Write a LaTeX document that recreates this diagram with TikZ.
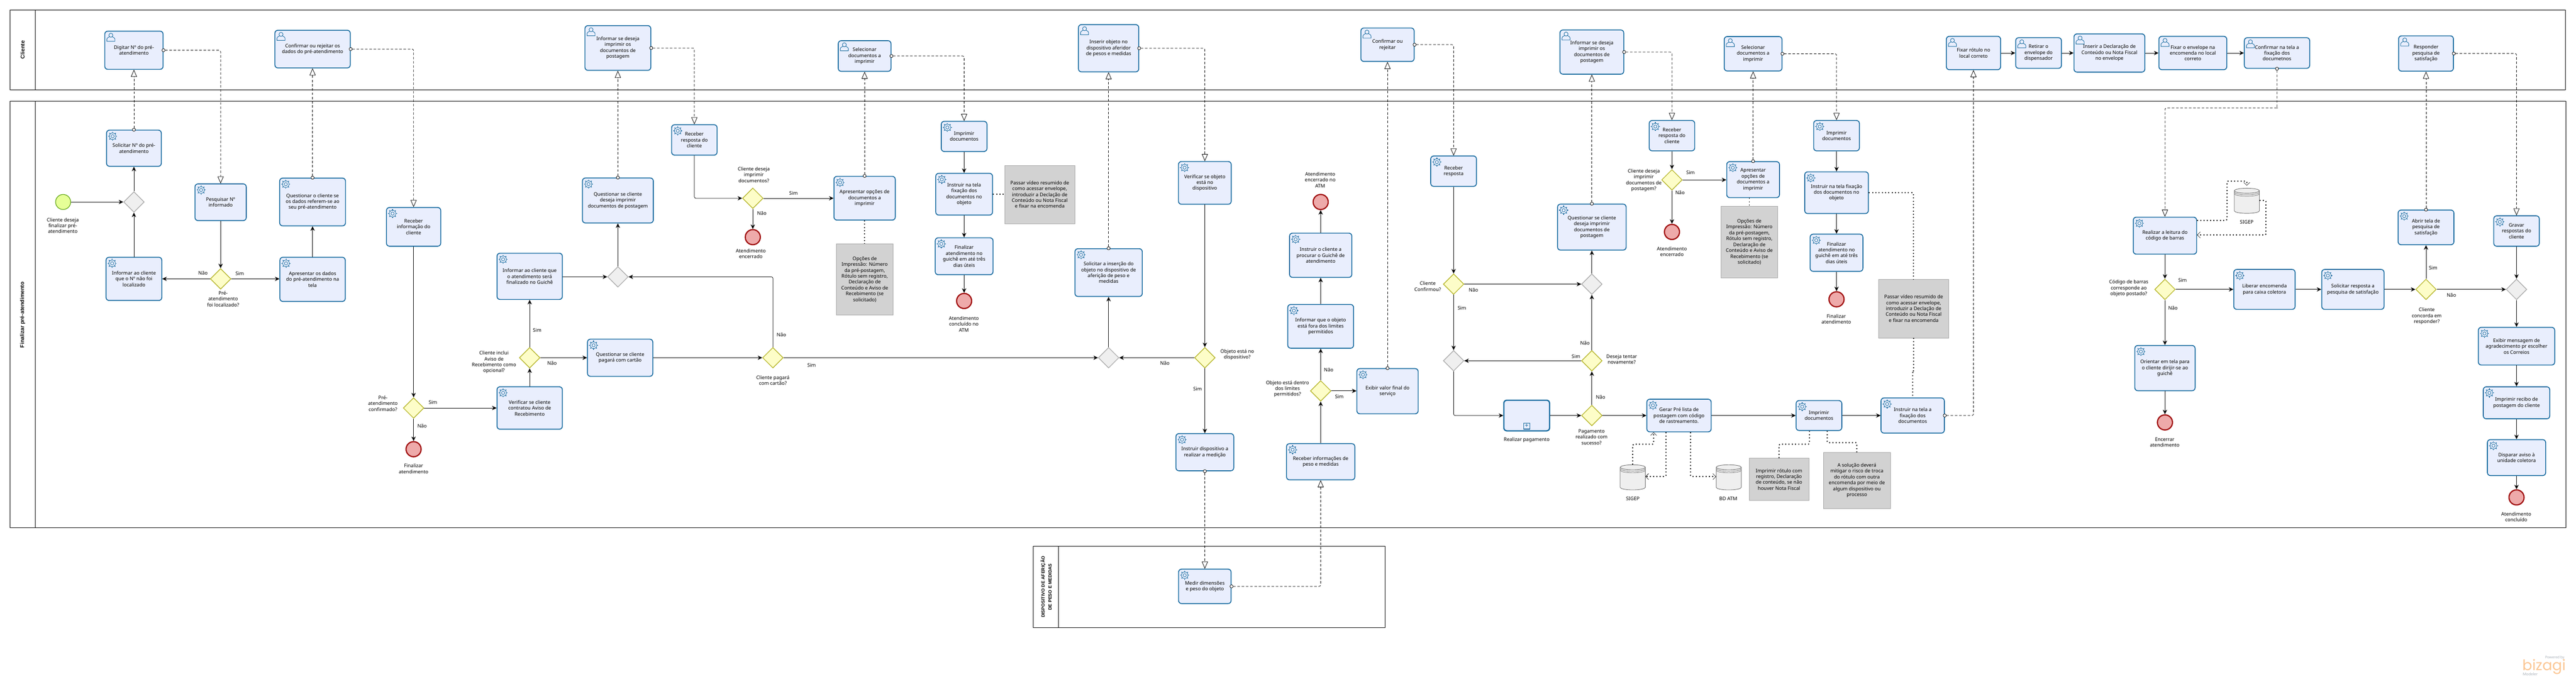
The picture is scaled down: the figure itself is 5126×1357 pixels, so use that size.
\documentclass[tikz,border=0pt]{standalone}
\usepackage{fontspec}
\setmainfont{Noto Sans}
\newfontfamily\lanefont{Liberation Sans}
\newfontfamily\logofont{Poppins}
\usetikzlibrary{shapes.geometric,arrows.meta,calc}
\definecolor{taskline}{HTML}{14699E}
\definecolor{taskfill}{HTML}{E9EEFD}
\definecolor{gwyline}{HTML}{B5B52A}
\definecolor{gwyfill}{HTML}{FDFDC8}
\definecolor{gwgline}{HTML}{ABABAB}
\definecolor{gwgfill}{HTML}{EFEFEF}
\definecolor{notefill}{HTML}{D2D2D2}
\definecolor{logoorange}{HTML}{FBC795}
\definecolor{logogray}{HTML}{A8B0B8}
\definecolor{startline}{HTML}{62A716}
\definecolor{startfill}{HTML}{E6FF97}
\definecolor{endline}{HTML}{A00F0F}
\definecolor{endfill}{HTML}{EEAAAA}
\tikzset{
  txt/.style={font=\fontsize{9.7}{11.7}\selectfont,align=center,inner sep=0pt},
  lbl/.style={txt},
  taskbox/.style={txt,draw=taskline,fill=taskfill,line width=1.7pt,rounded corners=6pt},
  subbox/.style={taskbox,line width=2.4pt},
  gwy/.style={diamond,aspect=1,minimum size=41pt,inner sep=0pt,draw=gwyline,fill=gwyfill,line width=1.4pt},
  gwg/.style={diamond,aspect=1,minimum size=41pt,inner sep=0pt,draw=gwgline,fill=gwgfill,line width=1.4pt},
  startev/.style={circle,minimum size=30pt,inner sep=0pt,draw=startline,fill=startfill,line width=1.3pt},
  endev/.style={circle,minimum size=30pt,inner sep=0pt,draw=endline,fill=endfill,line width=2.4pt},
  notebox/.style={txt,fill=notefill,draw=gray!70,line width=.4pt},
  poolbox/.style={draw=black,line width=1pt,inner sep=0pt},
  lanetxt/.style={rotate=90,inner sep=0pt,align=center},
  seq/.style={draw=black,line width=.8pt,rounded corners=3pt,arrows={-Stealth[length=9pt,width=8.5pt]}},
  msg/.style={draw=black,line width=.8pt,dash pattern=on 5pt off 3.5pt,rounded corners=3pt,shorten <=-3.5pt,
    arrows={Circle[open,length=7pt,width=7pt,fill=white]-Triangle[open,length=14pt,width=12pt,fill=white]}},
  assoc/.style={draw=black,line width=2pt,dash pattern=on 2pt off 4.5pt,rounded corners=2pt},
  assocarrow/.style={assoc,arrows={-Straight Barb[length=6pt,width=12pt,line width=.6pt]}},
  dbhold/.style={minimum width=50pt,minimum height=50pt,inner sep=0pt},
  dbline/.style={draw=gray!85!black,fill=gwgfill,line width=.9pt},
  gearicon/.pic={
    \foreach \a in {0,45,...,315}{\draw[taskline,line width=1.3pt] (\a:5.5pt) -- (\a:9pt);}
    \draw[taskline,fill=taskfill,line width=.8pt] (0,0) circle[radius=6.6pt];
    \draw[taskline,line width=.8pt] (0,0) circle[radius=3.2pt];
  },
  usericon/.pic={
    \draw[taskline,line width=.9pt,fill=taskfill] (-8,8) -- (-8,4) .. controls (-8,1) and (-4,0) .. (-3,-1) -- (3,-1) .. controls (4,0) and (8,1) .. (8,4) -- (8,8) -- cycle;
    \draw[taskline,line width=.9pt,fill=taskfill] (0,-4) circle[radius=4pt];
  },
}
\newcommand{\tsksvc}[6]{\node[taskbox,minimum width=#4pt,minimum height=#5pt] (#1) at (#2,#3) {#6};
  \pic at ($(#1.north west)+(13,13)$) {gearicon};}
\newcommand{\tskusr}[6]{\node[taskbox,minimum width=#4pt,minimum height=#5pt] (#1) at (#2,#3) {#6};
  \pic at ($(#1.north west)+(13,13)$) {usericon};}
\newcommand{\gwy}[3]{\node[gwy] (#1) at (#2,#3) {};}
\newcommand{\gwg}[3]{\node[gwg] (#1) at (#2,#3) {};}
\newcommand{\lab}[4]{\node[lbl] (#1) at (#2,#3) {#4};}
\newcommand{\evend}[3]{\node[endev] (#1) at (#2,#3) {};}
\newcommand{\dbnode}[3]{\node[dbhold] (#1) at (#2,#3) {};
  \begin{scope}[shift={(#2,#3)}]
    \draw[dbline] (-25,-20) -- (-25,20) arc[start angle=180,end angle=360,x radius=25pt,y radius=5pt] -- (25,-20);
    \draw[dbline] (-25,-20) arc[start angle=180,end angle=540,x radius=25pt,y radius=5pt];
    \draw[draw=gray!85!black,line width=.7pt] (-25,-17) arc[start angle=180,end angle=360,x radius=25pt,y radius=5pt];
    \draw[draw=gray!85!black,line width=.7pt] (-25,-14) arc[start angle=180,end angle=360,x radius=25pt,y radius=5pt];
  \end{scope}}
\begin{document}
\begin{tikzpicture}[x=1pt,y=-1pt]
\useasboundingbox (0,0) rectangle (5126,1357);
% pools
\node[poolbox,minimum width=5085pt,minimum height=158.5pt] (pc) at (2562.5,99.25) {};
\draw[line width=1pt] ([xshift=50.5pt]pc.north west) -- ([xshift=50.5pt]pc.south west);
\node[lanetxt,font=\lanefont\bfseries\fontsize{10.8}{13}\selectfont] (pct) at (45,99) {Cliente};
\node[poolbox,minimum width=5086pt,minimum height=848.5pt] (pf) at (2563,625.75) {};
\draw[line width=1pt] ([xshift=50.5pt]pf.north west) -- ([xshift=50.5pt]pf.south west);
\node[lanetxt,font=\lanefont\bfseries\fontsize{10.8}{13}\selectfont] (pft) at (45,626.6) {Finalizar pré-atendimento};
\node[poolbox,minimum width=699.5pt,minimum height=161.6pt] (pd) at (2406.25,1168.2) {};
\draw[line width=1pt] ([xshift=50pt]pd.north west) -- ([xshift=50pt]pd.south west);
\node[lanetxt,font=\lanefont\bfseries\fontsize{9}{13.7}\selectfont] (pdt) at (2081.7,1168) {DISPOSITIVO DE AFERIÇÃO\\DE PESO E MEDIDAS};
% section 1
\node[startev] (st) at (125.6,402) {};
\lab{lst}{125}{449}{Cliente deseja\\finalizar pré-\\atendimento}
\gwg{gwa}{266.5}{402}
\tskusr{t1}{266.5}{100}{116}{76}{Digitar Nº do pré-\\atendimento}
\tsksvc{t2}{266.5}{295}{109}{72}{Solicitar Nº do pré-\\atendimento}
\tsksvc{t3}{266.5}{555}{111}{86}{Informar ao cliente\\que o Nº não foi\\localizado}
\tsksvc{t4}{439}{402.5}{102}{73}{Pesquisar Nº\\informado}
\gwy{gwb}{439}{555}
\lab{lgwb}{444}{595}{Pré-\\atendimento\\foi localizado?}
\lab{lbn}{404}{543}{Não}
\lab{lbs}{477}{544}{Sim}
\tsksvc{t5}{622}{556}{130}{88}{Apresentar os dados\\do pré-atendimento na\\tela}
\tsksvc{t6}{622}{402}{131}{95}{Questionar o cliente se\\os dados referem-se ao\\seu pré-atendimento}
\tskusr{t7}{622}{97.7}{150}{75}{Confirmar ou rejeitar os\\dados do pré-atendimento}
\tsksvc{t8}{823}{451.5}{108}{77}{Receber\\informação do\\cliente}
\gwy{gwc}{823}{812}
\lab{lgwc}{762}{803}{Pré-\\atendimento\\confirmado?}
\lab{lcn}{840}{848}{Não}
\lab{lcs}{861.5}{801}{Sim}
\evend{e1}{823}{894}
\lab{le1}{823}{933}{Finalizar\\atendimento}
% section 2
\tskusr{t9}{1229.5}{95.5}{131}{89}{Informar se deseja\\imprimir os\\documentos de\\postagem}
\tsksvc{t10}{1229.5}{399}{141}{89.5}{Questionar se cliente\\deseja imprimir\\documentos de postagem}
\tsksvc{t11}{1381.7}{278.5}{90.5}{60.5}{Receber\\resposta do\\cliente}
\gwy{gwd}{1498}{394.6}
\lab{lgwd}{1500}{348}{Cliente deseja\\imprimir\\documentos?}
\lab{lds}{1579}{385}{Sim}
\lab{ldn}{1516}{425}{Não}
\evend{e2}{1498}{472}
\lab{le2}{1494}{505}{Atendimento\\encerrado}
\tsksvc{t12}{1054}{550}{130}{92}{Informar ao cliente que\\o atendimento será\\finalizado no Guichê}
\gwg{gwe}{1229.5}{551}
\tsksvc{t13}{1054}{812}{130}{84.5}{Verificar se cliente\\contratou Aviso de\\Recebimento}
\gwy{gwf}{1054}{712}
\lab{lgwf}{983}{721}{Cliente inclui\\Aviso de\\Recebimento como\\opcional?}
\lab{lfs}{1069}{657}{Sim}
\lab{lfn}{1098.5}{723}{Não}
\tsksvc{t14}{1234}{712}{130}{74}{Questionar se cliente\\pagará com cartão}
\gwy{gwg}{1538}{712}
\lab{lgwg}{1538}{757}{Cliente pagará\\com cartão?}
\lab{lgn}{1555}{666}{Não}
\lab{lgs}{1615}{727}{Sim}
% section 3
\tskusr{t15}{1720.5}{111.5}{105}{61}{Selecionar\\documentos a\\imprimir}
\tsksvc{t16}{1720.5}{394.5}{122}{87}{Apresentar opções de\\documentos a\\imprimir}
\node[notebox,minimum width=112.5pt,minimum height=142pt] (n1) at (1720.7,556) {Opções de\\Impressão: Número\\da pré-postagem,\\Rótulo sem registro,\\Declaração de\\Conteúdo e Aviso de\\Recebimento (se\\solicitado)};
\tsksvc{t17}{1918.5}{271.5}{91}{60}{Imprimir\\documentos}
\tsksvc{t18}{1918.5}{386.5}{113}{83}{Instruir na tela\\fixação dos\\documentos no\\objeto}
\tsksvc{t19}{1918.5}{510}{115}{73.5}{Finalizar\\atendimento no\\guichê em até três\\dias úteis}
\evend{e3}{1918.5}{599}
\lab{le3}{1918}{645}{Atendimento\\concluído no\\ATM}
\node[notebox,minimum width=139pt,minimum height=115.6pt] (n2) at (2069,387) {Passar vídeo resumido de\\como acessar envelope,\\introduzir a Declação de\\Conteúdo ou Nota Fiscal\\e fixar na encomenda};
\tskusr{t20}{2206}{96}{120}{94}{Inserir objeto no\\dispositivo aferidor\\de pesos e medidas}
\tsksvc{t21}{2206}{542.5}{134}{95}{Solicitar a inserção do\\objeto no dispositivo de\\aferição de peso e\\medidas}
\gwg{gwh}{2206}{712}
\tsksvc{t22}{2397.5}{364}{105}{85}{Verificar se objeto\\está no\\dispositivo}
\gwy{gwi}{2397.5}{712}
\lab{lgwi}{2462}{706}{Objeto está no\\dispositivo?}
\lab{lin}{2318}{723}{Não}
\lab{lis}{2383}{774}{Sim}
\tsksvc{t23}{2397.5}{900}{115}{74}{Instruir dispositivo a\\realizar a medição}
\tsksvc{t24}{2397.5}{1167}{104.5}{68.5}{Medir dimensões\\e peso do objeto}
% section 4
\evend{e4}{2628}{402}
\lab{le4}{2627}{358}{Atendimento\\encerrado no\\ATM}
\tsksvc{t25}{2628}{508}{124}{88}{Instruir o cliente a\\procurar o Guichê de\\atendimento}
\tsksvc{t26}{2628}{649.5}{131}{87}{Informar que o objeto\\está fora dos limites\\permitidos}
\gwy{gwj}{2628}{778}
\lab{lgwj}{2562}{774}{Objeto está dentro\\dos limites\\permitidos?}
\lab{ljn}{2644}{736}{Não}
\lab{ljs}{2665}{789}{Sim}
\tsksvc{t27}{2628}{919}{136}{72}{Receber informações de\\peso e medidas}
\tsksvc{t28}{2761}{778.6}{122}{90}{Exibir valor final do\\serviço}
\tskusr{t29}{2761}{89}{106}{66.6}{Confirmar ou\\rejeitar}
\tsksvc{t30}{2892.5}{340.7}{91}{60.5}{Receber\\resposta}
\gwy{gwk}{2892.5}{565.5}
\lab{lgwk}{2841}{570}{Cliente\\Confirmou?}
\lab{lkn}{2932}{577}{Não}
\lab{lks}{2909}{613}{Sim}
\gwg{gwl}{2892.5}{718}
\node[subbox,minimum width=91pt,minimum height=61pt] (t31) at (3038,827) {};
\node[draw=taskline,line width=1.2pt,fill=taskfill,minimum size=12pt,inner sep=0pt,font=\bfseries\fontsize{13}{13}\selectfont,text=taskline] (t31m) at (3038,848) {+};
\lab{lt31}{3038}{875.6}{Realizar pagamento}
\gwy{gwm}{3167.6}{827}
\lab{lgwm}{3167}{870}{Pagamento\\realizado com\\sucesso?}
\lab{lmn}{3185}{791}{Não}
\gwy{gwn}{3167.6}{718}
\lab{lgwn}{3227}{715}{Deseja tentar\\novamente?}
\lab{lns}{3136}{709}{Sim}
\lab{lnn}{3154}{683}{Não}
\gwg{gwo}{3167.6}{565.5}
\tsksvc{t32}{3167.6}{452}{136.5}{91.5}{Questionar se cliente\\deseja imprimir\\documentos de\\postagem}
\tskusr{t33}{3167.6}{103.6}{127}{88}{Informar se deseja\\imprimir os\\documentos de\\postagem}
\tsksvc{t34}{3327}{270}{90.5}{60.5}{Receber\\resposta do\\cliente}
\gwy{gwp}{3327}{358}
\lab{lgwp}{3271}{359}{Cliente deseja\\imprimir\\documentos de\\postagem?}
\lab{lps}{3364}{343}{Sim}
\lab{lpn}{3343}{384}{Não}
\evend{e5}{3327}{461.6}
\lab{le5}{3327}{501}{Atendimento\\encerrado}
\tsksvc{t35}{3341}{827}{128}{65}{Gerar Pré lista de\\postagem com código\\de rastreamento.}
\dbnode{db1}{3249}{950}
\lab{ldb1}{3249}{992}{SIGEP}
% section 5
\dbnode{db2}{3440}{950}
\lab{ldb2}{3439}{992}{BD ATM}
\tskusr{t36}{3488.5}{107}{115}{68.5}{Selecionar\\documentos a\\imprimir}
\tsksvc{t37}{3488.5}{357.5}{105}{71.6}{Apresentar\\opções de\\documentos a\\imprimir}
\node[notebox,minimum width=112.5pt,minimum height=143pt] (n3) at (3481,481.5) {Opções de\\Impressão: Número\\da pré-postagem,\\Rótulo sem registro,\\Declaração de\\Conteúdo e Aviso de\\Recebimento (se\\solicitado)};
\tsksvc{t38}{3654.5}{270}{91}{60.5}{Imprimir\\documentos}
\tsksvc{t39}{3654.5}{383.5}{126.7}{83}{Instruir na tela fixação\\dos documentos no\\objeto}
\tsksvc{t40}{3654.5}{503}{105}{74}{Finalizar\\atendimento no\\guichê em até três\\dias úteis}
\evend{e6}{3654.5}{595.7}
\lab{le6}{3654}{635}{Finalizar\\atendimento}
\node[notebox,minimum width=139pt,minimum height=116.5pt] (n4) at (3808,614) {Passar vídeo resumido de\\como acessar envelope,\\introduzir a Declação de\\Conteúdo ou Nota Fiscal\\e fixar na encomenda};
\tsksvc{t41}{3806}{827}{126}{70}{Instruir na tela a\\fixação dos\\documentos}
\tsksvc{t42}{3619.5}{827}{91}{59.5}{Imprimir\\documentos}
\node[notebox,minimum width=118.5pt,minimum height=84pt] (n5) at (3540,954) {Imprimir rótulo com\\registro, Declaração\\de conteúdo, se não\\houver Nota Fiscal};
\node[notebox,minimum width=133pt,minimum height=111.6pt] (n6) at (3695,956) {A solução deverá\\mitigar o risco de troca\\do rótulo com outra\\encomenda por meio de\\algum dispositivo ou\\processo};
\tskusr{t43}{3927}{105.5}{108}{66.4}{Fixar rótulo no\\local correto}
\tskusr{t44}{4056.5}{105.5}{91}{61}{Retirar o\\envelope do\\dispensador}
\tskusr{t45}{4197.5}{105.5}{141}{76}{Inserir a Declaração de\\Conteúdo ou Nota Fiscal\\no envelope}
% section 6
\tskusr{t46}{4363.5}{105.5}{135}{66.4}{Fixar o envelope na\\encomenda no local\\correto}
\tskusr{t47}{4531}{105.5}{130}{61}{Confirmar na tela a\\fixação dos\\documetnos}
\tsksvc{t48}{4308}{469}{126}{73.6}{Realizar a leitura do\\código de barras}
\dbnode{db3}{4471}{399.6}
\lab{ldb3}{4470.7}{442}{SIGEP}
\gwy{gwq}{4308}{576}
\lab{lgwq}{4236}{574}{Código de barras\\corresponde ao\\objeto postado?}
\lab{lqs}{4343}{558}{Sim}
\lab{lqn}{4324}{613}{Não}
\tsksvc{t49}{4308}{732.6}{120}{90}{Orientar em tela para\\o cliente dirijir-se ao\\guichê}
\evend{e7}{4308}{840.7}
\lab{le7}{4307.5}{880}{Encerrar\\atendimento}
\tsksvc{t50}{4506}{576}{122}{79.5}{Liberar encomenda\\para caixa coletora}
\tsksvc{t51}{4682}{576}{124}{79.5}{Solicitar resposta a\\pesquisa de satisfação}
\gwy{gwr}{4827.5}{576}
\lab{lgwr}{4829}{629}{Cliente\\concorda em\\responder?}
\lab{lrs}{4841.7}{533}{Sim}
\lab{lrn}{4878}{587}{Não}
\tsksvc{t52}{4827.5}{452.6}{111}{69}{Abrir tela de\\pesquisa de\\satisfação}
\tskusr{t53}{4827.5}{106.5}{109}{70.3}{Responder\\pesquisa de\\satisfação}
\tsksvc{t54}{5007.6}{459.8}{90.7}{60.5}{Gravar\\respostas do\\cliente}
\gwg{gws}{5007.6}{576}
\tsksvc{t55}{5007.6}{689}{152}{75}{Exibir mensagem de\\agradecimento pr escolher\\os Correios}
\tsksvc{t56}{5007.6}{801.7}{132.3}{63.7}{Imprimir recibo de\\postagem do cliente}
\tsksvc{t57}{5007.6}{910.7}{116}{71.5}{Disparar aviso à\\unidade coletora}
\evend{e8}{5007.6}{990}
\lab{le8}{5007}{1029}{Atendimento\\concluído}
% logo
\node[inner sep=0pt,font=\bfseries\fontsize{7}{8}\selectfont,text=logogray,anchor=east] (lgp) at (5103,1309) {Powered by};
\node[inner sep=0pt,font=\logofont\fontsize{29}{30}\selectfont,text=logoorange,anchor=base west] (lgb) at (5019,1334) {bizagi};
\node[inner sep=0pt,font=\fontsize{7.5}{8}\selectfont,text=logogray,anchor=west] (lgm) at (5020,1342) {Modeler};
% sequence flows
\draw[seq] (st) -- (gwa);
\draw[seq] (gwa) -- (t2);
\draw[seq] (t3) -- (gwa);
\draw[seq] (t4) -- (gwb);
\draw[seq] (gwb) -- (t3);
\draw[seq] (gwb) -- (gwb -| t5.west);
\draw[seq] (t5) -- (t6);
\draw[seq] (t8) -- (gwc);
\draw[seq] (gwc) -- (e1);
\draw[seq] (gwc) -- (t13);
\draw[seq] (t13) -- (gwf);
\draw[seq] (gwf) -- (t12);
\draw[seq] (gwf) -- (t14);
\draw[seq] (t12.east |- gwe) -- (gwe);
\draw[seq] (t14) -- (gwg);
\draw[seq] (gwg.north) |- (gwe.east);
\draw[seq] (gwe) -- (t10);
\draw[seq] (t11.south) |- (gwd.west);
\draw[seq] (gwd) -- (gwd -| t16.west);
\draw[seq] (gwd) -- (e2);
\draw[seq] (gwg) -- (gwh);
\draw[seq] (t17) -- (t18);
\draw[seq] (t18) -- (t19);
\draw[seq] (t19) -- (e3);
\draw[seq] (gwh) -- (t21);
\draw[seq] (gwi) -- (gwh);
\draw[seq] (t22) -- (gwi);
\draw[seq] (gwi) -- (t23);
\draw[seq] (t27) -- (gwj);
\draw[seq] (gwj) -- (t26);
\draw[seq] (t26) -- (t25);
\draw[seq] (t25) -- (e4);
\draw[seq] (gwj) -- (gwj -| t28.west);
\draw[seq] (t30) -- (gwk);
\draw[seq] (gwk) -- (gwo);
\draw[seq] (gwk) -- (gwl);
\draw[seq] (gwn) -- (gwl);
\draw[seq] (gwn) -- (gwo);
\draw[seq] (gwo) -- (t32);
\draw[seq] (gwl.south) |- (t31.west);
\draw[seq] (t31) -- (gwm);
\draw[seq] (gwm) -- (gwn);
\draw[seq] (gwm) -- (t35);
\draw[seq] (t35) -- (t42);
\draw[seq] (t42) -- (t41);
\draw[seq] (t34) -- (gwp);
\draw[seq] (gwp) -- (e5);
\draw[seq] (gwp) -- (gwp -| t37.west);
\draw[seq] (t38) -- (t39);
\draw[seq] (t39) -- (t40);
\draw[seq] (t40) -- (e6);
\draw[seq] (t43) -- (t44);
\draw[seq] (t44) -- (t45);
\draw[seq] (t45) -- (t46);
\draw[seq] (t46) -- (t47);
\draw[seq] (t48) -- (gwq);
\draw[seq] (gwq) -- (t49);
\draw[seq] (t49) -- (e7);
\draw[seq] (gwq) -- (t50);
\draw[seq] (t50) -- (t51);
\draw[seq] (t51) -- (gwr);
\draw[seq] (gwr) -- (t52);
\draw[seq] (gwr) -- (gws);
\draw[seq] (t54) -- (gws);
\draw[seq] (gws) -- (t55);
\draw[seq] (t55) -- (t56);
\draw[seq] (t56) -- (t57);
\draw[seq] (t57) -- (e8);
% message flows
\draw[msg] (t2.north) -- (t1.south);
\draw[msg] (t1.east) -| (t4.north);
\draw[msg] (t6.north) -- (t7.south);
\draw[msg] (t7.east) -| (t8.north);
\draw[msg] (t10.north) -- (t9.south);
\draw[msg] (t9.east) -| (t11.north);
\draw[msg] (t16.north) -- (t15.south);
\draw[msg] (t15.east) -| (t17.north);
\draw[msg] (t21.north) -- (t20.south);
\draw[msg] (t20.east) -| (t22.north);
\draw[msg] (t23.south) -- (t24.north);
\draw[msg] (t24.east) -| (t27.south);
\draw[msg] (t28.north) -- (t29.south);
\draw[msg] (t29.east) -| (t30.north);
\draw[msg] (t32.north) -- (t33.south);
\draw[msg] (t33.east) -| (t34.north);
\draw[msg] (t37.north) -- (t36.south);
\draw[msg] (t36.east) -| (t38.north);
\draw[msg] (t41.east) -| (t43.south);
\coordinate (m47) at (4530.5,215);
\draw[msg] (t47.south) |- (m47) -| (t48.north);
\draw[msg] (t52.north) -- (t53.south);
\draw[msg] (t53.east) -| (t54.north);
% associations
\draw[assoc] (t16.south) -- (t16.south |- n1.north);
\draw[assoc] (t18.east) -- (t18.east -| n2.west);
\draw[assoc] (t37.south -| n3.north) -- (n3.north);
\draw[assoc] (t39.east) -| (n4.north);
\coordinate (j4a) at (3808,739.6);
\coordinate (j4b) at (3806,739.6);
\draw[assoc] (n4.south) -- (j4a) -- (j4b) -- (t41.north);
\coordinate (j5a) at (3600.7,884);
\draw[assoc] (j5a |- t42.south) -- (j5a) -| (n5.north);
\coordinate (j6a) at (3636,881);
\draw[assoc] (j6a |- t42.south) -- (j6a) -| (n6.north);
\coordinate (d1a) at (3249,884);
\coordinate (d1b) at (3290.5,884);
\draw[assocarrow] (db1.north) -- (d1a) -- (d1b) -- (d1b |- t35.south);
\coordinate (d2a) at (3315,948.5);
\draw[assocarrow] (d2a |- t35.south) -- (d2a) -- (d2a -| db1.east);
\coordinate (d3a) at (3364,948.5);
\draw[assocarrow] (d3a |- t35.south) -- (d3a) -- (d3a -| db2.west);
\coordinate (d4a) at (4431.6,438.6);
\coordinate (d4b) at (4431.6,360.5);
\coordinate (d4c) at (4471,360.5);
\draw[assocarrow] (d4a -| t48.east) -- (d4a) -- (d4b) -- (d4c) -- ([yshift=5pt]db3.north);
\coordinate (d5a) at (4509,399);
\coordinate (d5b) at (4509,467.6);
\draw[assocarrow] (d5a -| db3.east) -- (d5a) -- (d5b) -- (d5b -| t48.east);
\end{tikzpicture}
\end{document}
